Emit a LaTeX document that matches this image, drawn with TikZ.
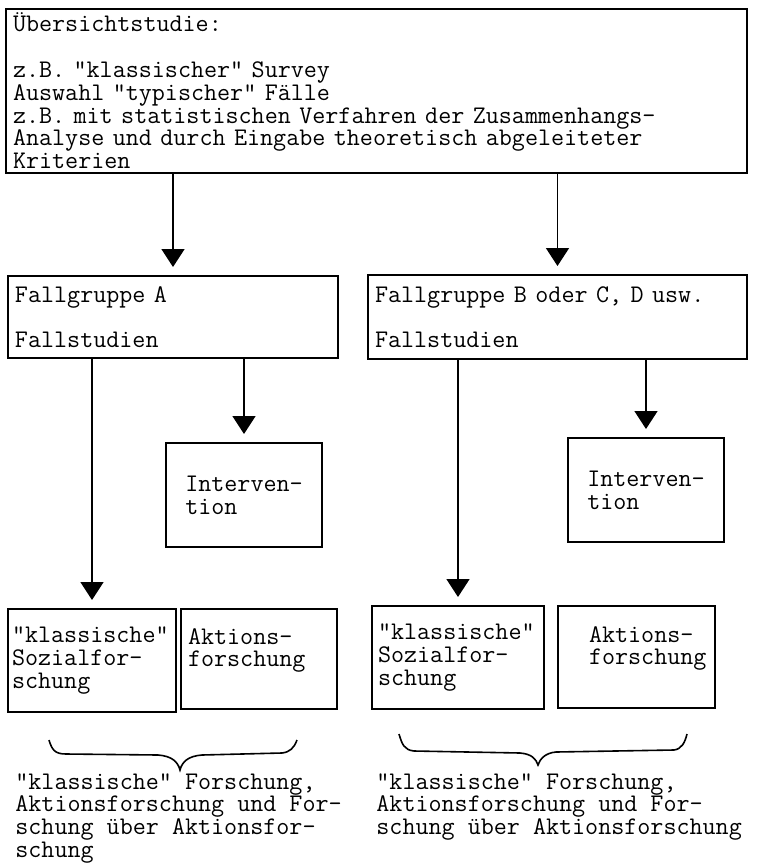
\documentclass[tikz,border=0pt]{standalone}
\usepackage{fontspec}
\usepackage{tikz}
\usetikzlibrary{arrows.meta}

\tikzset{
  kasten/.style={draw, line width=1pt, anchor=north west, align=left, inner ysep=0pt, inner xsep=3.5pt},
  pfeil/.style={line width=0.8pt, -{Triangle[length=9pt,width=11.5pt]}, shorten >=4pt},
  klammer/.style={line width=0.8pt},
  summe/.style={anchor=north west, inner sep=0pt, align=left},
}

\begin{document}
\begin{tikzpicture}[x=0.5pt,y=-0.5pt,font=\ttfamily\addfontfeatures{FakeBold=0.5}\fontsize{12.67}{11.4}\selectfont]
  \path[use as bounding box] (0,0) rectangle (757,863);

  \node[kasten, text width=363.5pt, minimum height=82pt] (survey) at (5,8)
    {Übersichtstudie:\\\mbox{}\\z.B. "klassischer" Survey\\Auswahl "typischer" Fälle\\z.B. mit statistischen Verfahren der Zusammenhangs-\\Analyse und durch Eingabe theoretisch abgeleiteter\\Kriterien};

  \node[kasten, text width=158pt, minimum height=41pt] (fallA) at (7,275)
    {Fallgruppe A\\\mbox{}\\Fallstudien};
  \node[kasten, text width=182.5pt, minimum height=42pt] (fallB) at (367,274)
    {Fallgruppe B oder C, D usw.\\\mbox{}\\Fallstudien};

  \node[kasten, minimum width=78pt, minimum height=52pt] (intA) at (165,442) {Interven-\\tion};
  \node[kasten, minimum width=78pt, minimum height=52pt] (intB) at (567,437) {Interven-\\tion};

  \node[kasten, inner xsep=2pt, text width=80pt, minimum height=51.5pt] (klassA) at (7,608)
    {"klassische"\\Sozialfor-\\schung};
  \node[kasten, text width=71pt, minimum height=50pt] (aktA) at (180,608)
    {Aktions-\\forschung\\\mbox{}};
  \node[kasten, inner xsep=3pt, text width=80pt, minimum height=51.5pt] (klassB) at (371,605)
    {"klassische"\\Sozialfor-\\schung};
  \node[kasten, text width=71.5pt, minimum height=51pt] (aktB) at (557,605)
    {\hspace*{12pt}Aktions-\\\hspace*{12pt}forschung\\\mbox{}};

  \draw[pfeil] (survey.south -| fallA.north) -- (fallA.north);
  \draw[pfeil] (survey.south -| fallB.north) -- (fallB.north);
  \draw[pfeil] (fallA.south -| klassA.north) -- (klassA.north);
  \draw[pfeil] (fallA.south -| intA.north) -- (intA.north);
  \draw[pfeil] (fallB.south -| klassB.north) -- (klassB.north);
  \draw[pfeil] (fallB.south -| intB.north) -- (intB.north);

  \draw[klammer] (49,740) .. controls (52,750) and (55,754) .. (66,754) -- (158,755)
    .. controls (172,756) and (178,762) .. (180,770) coordinate (spitzeA)
    .. controls (182,762) and (188,756) .. (202,755) -- (282,753)
    .. controls (290,752) and (294,748) .. (297,740);
  \draw[klammer] (399,734) .. controls (402,744) and (404,750) .. (414,751) -- (520,753)
    .. controls (532,754) and (536,759) .. (538,765) coordinate (spitzeB)
    .. controls (540,759) and (545,753) .. (556,752) -- (674,750)
    .. controls (682,749) and (685,742) .. (687,734);

  \node[summe] (sumA) at (15,773)
    {"klassische" Forschung,\\Aktionsforschung und For-\\schung über Aktionsfor-\\schung};
  \node[summe] (sumB) at (376,773)
    {"klassische" Forschung,\\Aktionsforschung und For-\\schung über Aktionsforschung};
\end{tikzpicture}
\end{document}
